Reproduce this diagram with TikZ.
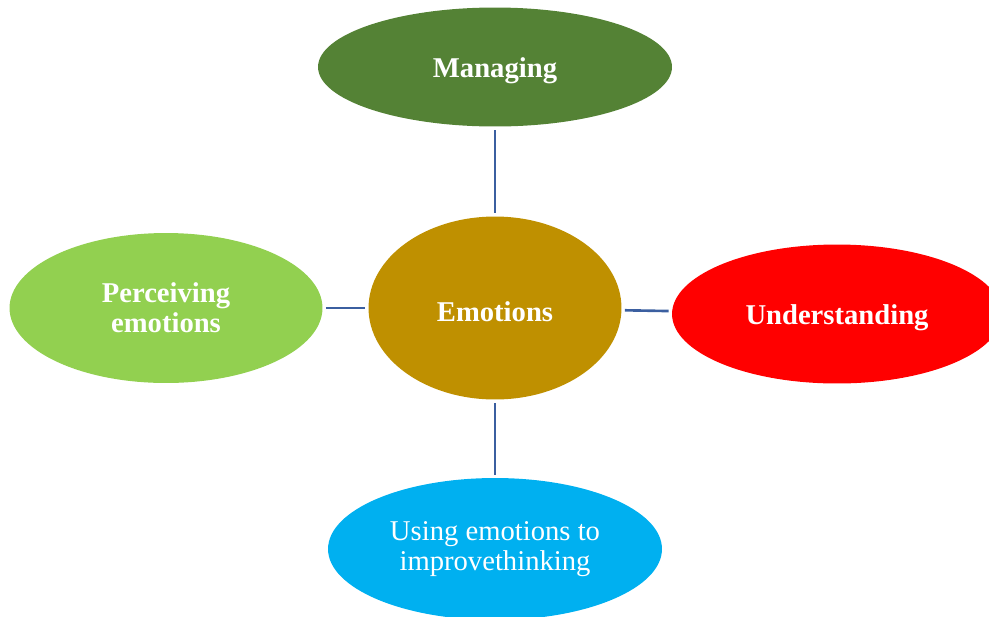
\documentclass[tikz,border=0pt]{standalone}
\usepackage{fontspec}
\setmainfont{Liberation Serif}
\usetikzlibrary{shapes.geometric}
\definecolor{managegreen}{RGB}{84,130,53}
\definecolor{coregold}{RGB}{191,144,0}
\definecolor{perceivegreen}{RGB}{146,208,80}
\definecolor{understandred}{RGB}{255,0,0}
\definecolor{usingblue}{RGB}{0,176,240}
\definecolor{linkblue}{RGB}{59,95,160}

\begin{document}
\begin{tikzpicture}[
    x=0.02cm, y=-0.02cm,
    font=\fontsize{16.3}{17}\selectfont\bfseries,
    bubble/.style={ellipse, draw=none, text=white, align=center, inner sep=0pt,
      execute at begin node={\rule{0pt}{15pt}}},
    link/.style={draw=linkblue, line width=1.5pt, shorten <=1.8pt, shorten >=1.8pt}
  ]
    \useasboundingbox (0,0) rectangle (989,616);
    % centre and the four branches
    \node[bubble, fill=coregold, minimum width=5.06cm, minimum height=3.66cm] (emotions) at (495,308) {Emotions};
    \node[bubble, fill=managegreen, minimum width=7.08cm, minimum height=2.38cm] (managing) at (495,67) {Managing};
    \node[bubble, fill=perceivegreen, minimum width=6.26cm, minimum height=3cm] (perceiving) at (166,308) {Perceiving\\emotions};
    \node[bubble, fill=understandred, minimum width=6.6cm, minimum height=2.78cm] (understanding) at (837,314) {Understanding};
    \node[bubble, fill=usingblue, minimum width=6.68cm, minimum height=2.84cm, font=\fontsize{16.3}{17}\selectfont\mdseries] (using) at (495,549) {Using emotions to\\improvethinking};
    \draw[link] (managing) -- (emotions);
    \draw[link] (perceiving) -- (emotions);
    \draw[link] (emotions) -- (understanding);
    \draw[link] (emotions) -- (using);
  \end{tikzpicture}
\end{document}
